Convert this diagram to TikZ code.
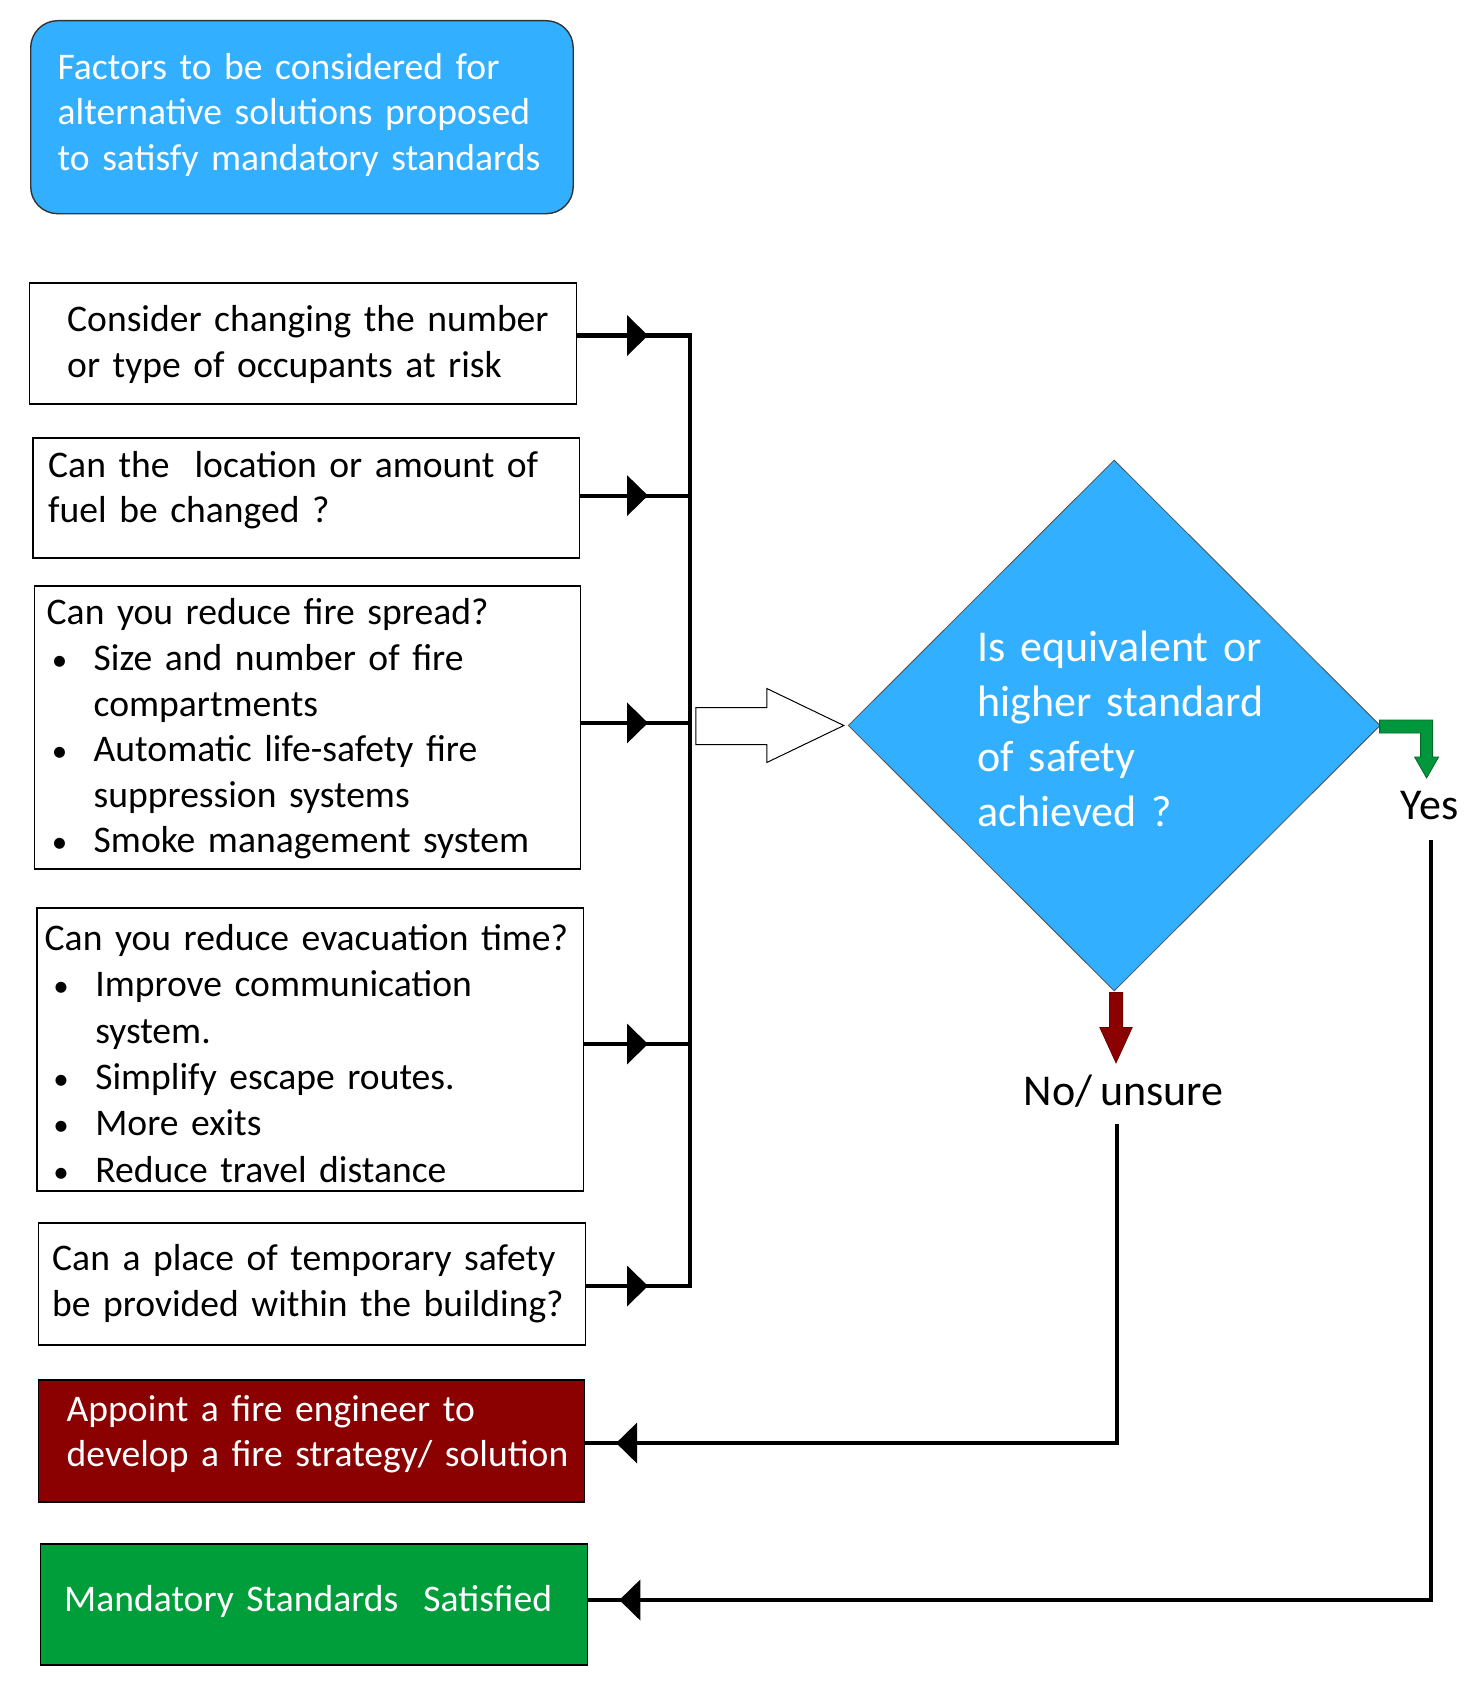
\documentclass[tikz,border=0pt]{standalone}
\usepackage{fontspec}
\setmainfont[WordSpace=0.75]{Carlito}
\usetikzlibrary{shapes.geometric,arrows.meta,decorations.markings,calc}
\definecolor{dblue}{RGB}{51,175,255}
\definecolor{dred}{RGB}{139,0,0}
\definecolor{dgreen}{RGB}{0,158,58}
\definecolor{agreen}{RGB}{0,150,60}
\newcommand\bitem[2]{\makebox[#2pt][l]{\hspace*{#1pt}\makebox[0pt]{\fontsize{31}{31}\selectfont •}}}
\tikzset{
  box/.style={draw=black, line width=1.6pt, fill=white, inner sep=0pt, anchor=north west},
  txt/.style={font=\fontsize{37.6}{45.6}\selectfont, text width=600pt, align=left, inner sep=0pt, anchor=base west},
  conn/.style={draw=black, line width=4.2pt},
  tipmid/.style={postaction={decorate}, decoration={markings, mark=at position #1 with {\arrow{Triangle[length=21pt,width=40pt]}}}},
  lbl/.style={font=\fontsize{44}{55}\selectfont, inner sep=0pt, anchor=base}
}
\begin{document}
\begin{tikzpicture}[x=1pt,y=-1pt]
\useasboundingbox (0,0) rectangle (1482,1694);
\fill[white] (0,0) rectangle (1482,1694);
% title
\node[draw=black!80, line width=1.4pt, fill=dblue, rounded corners=27pt, minimum width=542.5pt, minimum height=193pt, inner sep=0pt, anchor=north west] (title) at (30,20) {};
\node[txt, text=white] (titletxt) at (57.5,79) {Factors to be considered for\\alternative solutions proposed\\to satisfy mandatory standards};
% boxes
\node[box, minimum width=547pt, minimum height=121pt] (b1) at (28.5,282) {};
\node[txt] (t1) at (67,331.4) {Consider changing the number\\or type of occupants at risk};
\node[box, minimum width=546.5pt, minimum height=120pt] (b2) at (32,437) {};
\node[txt] (t2) at (48,477) {Can the~ location or amount of\\fuel be changed ?};
\node[box, minimum width=546pt, minimum height=283pt] (b3) at (33.5,585) {};
\node[txt] (t3) at (46.5,624.9) {Can you reduce fire spread?\\
\bitem{13}{47}Size and number of fire\\
\hspace*{47pt}compartments\\
\bitem{13}{47}Automatic life-safety fire\\
\hspace*{47pt}suppression systems\\
\bitem{13}{47}Smoke management system};
\node[box, minimum width=546.7pt, minimum height=283pt] (b4) at (36,907) {};
\node[txt, font=\fontsize{37.6}{46.3}\selectfont] (t4) at (44.5,950.6) {Can you reduce evacuation time?\\
\bitem{16.5}{50.6}Improve communication\\
\hspace*{50.6pt}system.\\
\bitem{16.5}{50.6}Simplify escape routes.\\
\bitem{16.5}{50.6}More exits\\
\bitem{16.5}{50.6}Reduce travel distance};
\node[box, minimum width=547.2pt, minimum height=122pt] (b5) at (37.5,1222) {};
\node[txt] (t5) at (52,1270.9) {Can a place of temporary safety\\be provided within the building?};
\node[box, fill=dred, minimum width=546pt, minimum height=122pt] (rd) at (37.5,1379) {};
\node[txt, text=white] (trd) at (66.5,1421) {Appoint a fire engineer to\\develop a fire strategy/ solution};
\node[box, fill=dgreen, minimum width=547.2pt, minimum height=121pt] (gr) at (39.5,1543) {};
\node[txt, text=white] (tgr) at (64,1611.6) {Mandatory Standards~ Satisfied};
% bus
\coordinate (j1) at (689.7,335.5);
\coordinate (j2) at (689.7,495.6);
\coordinate (j3) at (689.7,722.9);
\coordinate (j4) at (689.7,1044);
\coordinate (j5) at (689.7,1286);
\draw[conn, line cap=rect] (j1) -- (j5);
\foreach \b/\j in {b1/j1,b2/j2,b3/j3,b4/j4,b5/j5}{
  \draw[conn, tipmid=-41.7pt] (\b.east |- \j) -- (\j);
}
% diamond
\node[diamond, aspect=1, minimum width=532pt, minimum height=531pt, inner sep=0pt, fill=dblue, draw=black!70, line width=0.8pt] (dia) at (1114.2,725.5) {};
\node[font=\fontsize{44}{55}\selectfont, text=white, text width=400pt, align=left, inner sep=0pt, anchor=base west] (dtxt) at (977.4,661) {Is equivalent or\\higher standard\\of safety\\achieved ?};
% hollow arrow into diamond
\begin{scope}[shift={(dia.west)}]
\draw[black, line width=1pt, fill=white] (-152,-18) -- (-81,-18) -- (-81,-37) -- (-4,0) -- (-81,37) -- (-81,19) -- (-152,19) -- cycle;
\end{scope}
% yes arrow
\begin{scope}[shift={(dia.east)}]
\draw[agreen!70!black, line width=0.8pt, fill=agreen] (-1,-5.5) -- (52,-5.5) -- (52,31.5) -- (58,31.5) -- (46,52.5) -- (34,31.5) -- (40,31.5) -- (40,7.5) -- (-1,7.5) -- cycle;
\end{scope}
% no arrow
\begin{scope}[shift={(dia.south)}]
\draw[dred!80!black, line width=0.8pt, fill=dred] (-4.8,1) -- (8.4,1) -- (8.4,36) -- (18,36) -- (1.8,71.4) -- (-14.4,36) -- (-4.8,36) -- cycle;
\end{scope}
% labels
\node[lbl] (yes) at (1429.5,819) {Yes};
\node[lbl] (no) at (1123.6,1105.7) {No/ unsure};
% return lines
\coordinate (ntop) at (1116.9,1124);
\coordinate (ncorner) at (1116.9,1443);
\draw[conn, tipmid=-31pt] (ntop) -- (ncorner) -- (rd.east |- ncorner);
\coordinate (ytop) at (1431,840);
\coordinate (ycorner) at (1431,1600);
\draw[conn, tipmid=-31pt] (ytop) -- (ycorner) -- (gr.east |- ycorner);
\end{tikzpicture}
\end{document}
